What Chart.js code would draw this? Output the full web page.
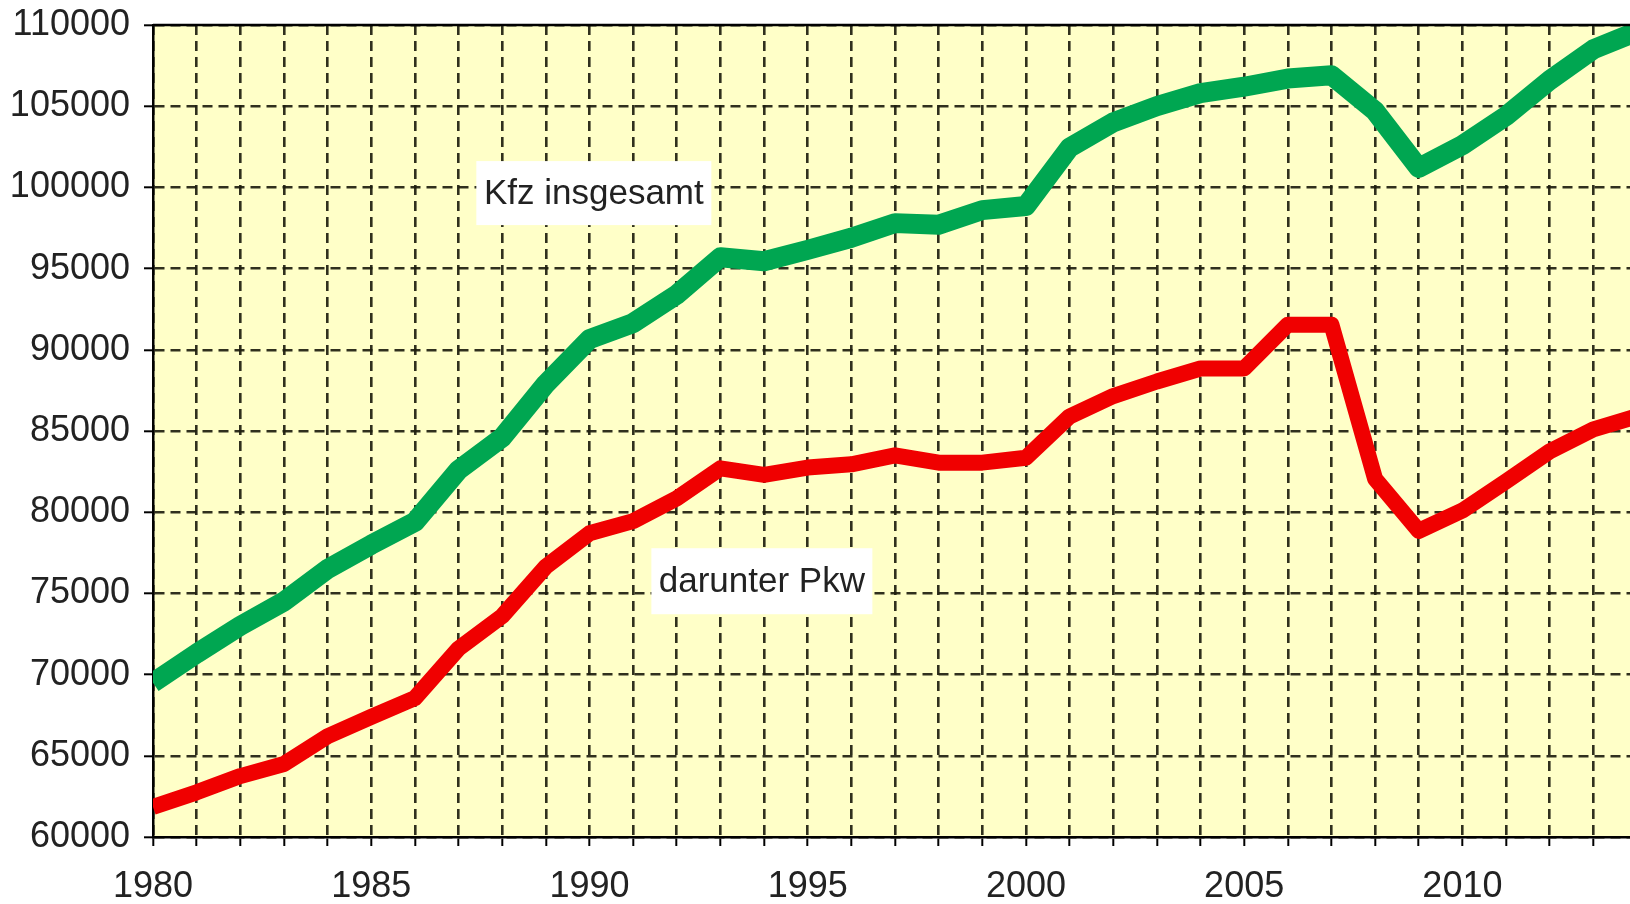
<!DOCTYPE html>
<html>
<head>
<meta charset="utf-8">
<title>Kfz-Bestand</title>
<script src="https://cdn.jsdelivr.net/npm/chart.js@4.4.0/dist/chart.umd.min.js"></script>
<style>
  html, body { margin: 0; padding: 0; background: #fff; }
  canvas { display: block; }
</style>
</head>
<body>
<canvas id="chart" width="1630" height="904"></canvas>
<script>
const fontFamily = "'Liberation Sans', Arial, sans-serif";

// values (Bestand, jeweils zur Jahresmitte)
const years = [1980, 1981, 1982, 1983, 1984, 1985, 1986, 1987, 1988, 1989,
  1990, 1991, 1992, 1993, 1994, 1995, 1996, 1997, 1998, 1999,
  2000, 2001, 2002, 2003, 2004, 2005, 2006, 2007, 2008, 2009,
  2010, 2011, 2012, 2013, 2014];

const kfzInsgesamt = [69500, 71300, 73000, 74500, 76500, 78000, 79400, 82600, 84600, 87900,
  90650, 91650, 93400, 95700, 95450, 96150, 96900, 97800, 97700, 98600,
  98850, 102450, 104000, 105000, 105800, 106200, 106700, 106900, 104700, 101200,
  102600, 104400, 106600, 108500, 109600];

const darunterPkw = [61850, 62750, 63750, 64500, 66200, 67400, 68550, 71600, 73600, 76650,
  78700, 79450, 80850, 82700, 82300, 82750, 82950, 83500, 83050, 83050,
  83350, 85900, 87150, 88050, 88850, 88850, 91550, 91550, 82050, 78850,
  80100, 81900, 83750, 85100, 85900];

const yTicks = [60000, 65000, 70000, 75000, 80000, 85000, 90000, 95000, 100000, 105000, 110000];
const xLabelYears = [1980, 1985, 1990, 1995, 2000, 2005, 2010];

// label boxes, anchored at data coordinates (year, value) = box centre
const seriesLabels = [
  { text: 'Kfz insgesamt', year: 1990.1, value: 99650, w: 235, h: 64 },
  { text: 'darunter Pkw', year: 1993.95, value: 75750, w: 221, h: 66 },
];

const gridColor = 'rgba(30, 30, 15, 0.92)';

const plotArea = {
  id: 'plotArea',
  beforeDraw(chart) {
    const { ctx, chartArea: a } = chart;
    ctx.save();
    ctx.fillStyle = '#ffffc8';
    ctx.fillRect(a.left, a.top, a.right - a.left, a.bottom - a.top);
    ctx.restore();
  },
  afterDatasetsDraw(chart) {
    const { ctx, chartArea: a, scales } = chart;
    ctx.save();
    ctx.font = `35px ${fontFamily}`;
    ctx.textAlign = 'center';
    ctx.textBaseline = 'middle';
    seriesLabels.forEach(l => {
      const cx = scales.x.getPixelForValue(l.year);
      const cy = scales.y.getPixelForValue(l.value);
      ctx.fillStyle = '#ffffff';
      ctx.fillRect(cx - l.w / 2, cy - l.h / 2, l.w, l.h);
      ctx.fillStyle = '#222';
      ctx.fillText(l.text, cx, cy + 1);
    });
    // solid frame line on top
    ctx.strokeStyle = '#000';
    ctx.lineWidth = 2.5;
    ctx.beginPath();
    ctx.moveTo(a.left, a.top);
    ctx.lineTo(a.right, a.top);
    ctx.stroke();
    ctx.restore();
  }
};

const config = {
  type: 'line',
  data: {
    labels: years,
    datasets: [
      {
        label: 'Kfz insgesamt',
        data: years.map((y, i) => ({ x: y, y: kfzInsgesamt[i] })),
        borderColor: '#00a651',
        borderWidth: 20,
        borderJoinStyle: 'round',
        pointRadius: 0,
        tension: 0,
      },
      {
        label: 'darunter Pkw',
        data: years.map((y, i) => ({ x: y, y: darunterPkw[i] })),
        borderColor: '#f00000',
        borderWidth: 16,
        borderJoinStyle: 'round',
        pointRadius: 0,
        tension: 0,
      },
    ],
  },
  options: {
    responsive: false,
    animation: false,
    layout: { padding: { top: 25, right: 0, bottom: 0, left: 0 } },
    plugins: {
      legend: { display: false },
      tooltip: { enabled: false },
    },
    scales: {
      x: {
        type: 'linear',
        min: years[0],
        max: 2013.84,
        afterFit: s => { s.height = 67; s.paddingLeft = 0; s.paddingRight = 0; },
        grid: {
          color: gridColor,
          lineWidth: 2.6,
          tickLength: 9,
          tickColor: '#000',
          tickWidth: 2,
        },
        border: { color: '#000', width: 2.5, dash: [10, 6] },
        ticks: {
          stepSize: 1,
          autoSkip: false,
          includeBounds: false,
          maxRotation: 0,
          padding: 19,
          color: '#222',
          font: { family: fontFamily, size: 36 },
          callback: v => xLabelYears.includes(v) ? String(v) : '',
        },
      },
      y: {
        min: yTicks[0],
        max: yTicks[yTicks.length - 1],
        afterFit: s => { s.width = 153; s.paddingTop = 0; s.paddingBottom = 0; },
        grid: {
          color: gridColor,
          lineWidth: 2.6,
          tickLength: 9,
          tickColor: '#000',
          tickWidth: 2,
        },
        border: { color: '#000', width: 2.5, dash: [10, 6] },
        ticks: {
          stepSize: 5000,
          padding: 14,
          color: '#222',
          font: { family: fontFamily, size: 36 },
          callback: v => String(v),
        },
      },
    },
  },
  plugins: [plotArea],
};

new Chart(document.getElementById('chart'), config);
</script>
</body>
</html>
